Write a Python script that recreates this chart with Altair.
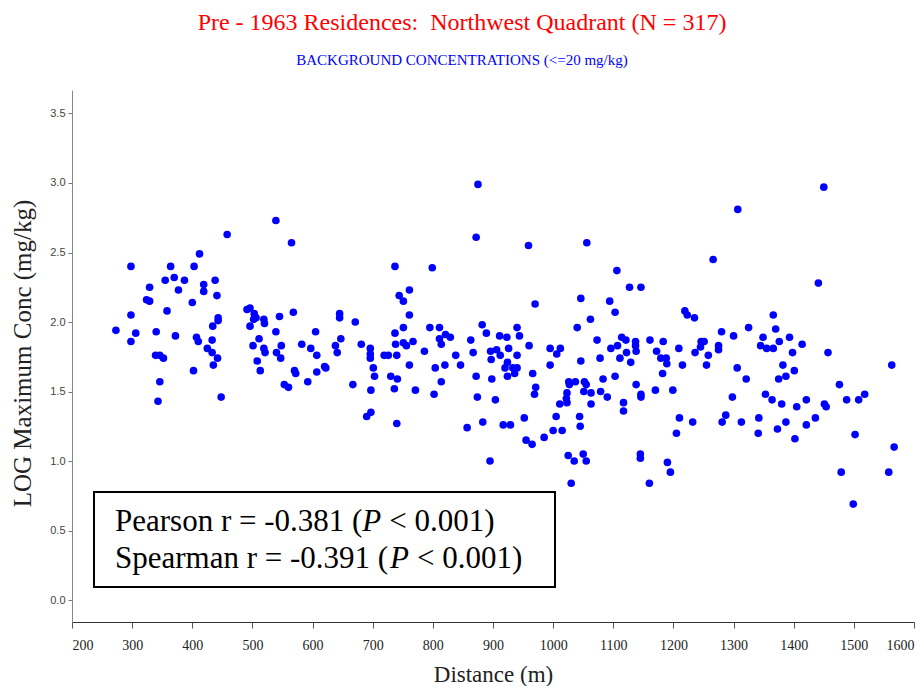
import altair as alt
import pandas as pd

# ---- data (Distance in m, LOG max concentration in mg/kg)
distance = [
    458, 412, 298, 364, 403, 355, 370, 387, 438, 329, 377, 419, 419, 441, 324, 329, 400, 358, 298, 443,
    443, 434, 273, 306, 298, 340, 372, 407, 410, 433, 425, 433, 442, 435, 339, 346, 352, 402, 346, 343,
    448, 491, 496, 503, 506, 502, 519, 520, 496, 511, 501, 519, 521, 508, 513,
    539, 565, 737, 744, 545, 568, 539, 605, 645, 645, 671, 548, 540, 547, 582, 597, 607, 638, 641, 647,
    681, 696, 696, 696, 719, 726, 740, 737, 738, 570, 572, 592, 607, 620, 622, 553, 560, 667, 701, 703,
    730, 741, 697, 736, 690, 697, 740,
    872, 875, 959, 799, 761, 751, 970, 761, 751, 795, 811, 882, 889, 940, 944, 911, 923, 811, 821, 829,
    814, 863, 751, 756, 767, 786, 838, 867, 896, 906, 912, 926, 940, 960, 897, 761, 804, 820, 846, 924,
    920, 933, 940, 936, 924, 814, 872, 898, 966, 971, 969, 771, 802, 874, 904, 952, 883, 857, 917, 929,
    1056, 1106, 1127, 1146, 1046, 1094, 1103, 1062, 1040, 1073, 1114, 1121, 1137, 1137, 1138, 1161, 1183, 1209, 995, 1012,
    1006, 1096, 1107, 1122, 1172, 1078, 1111, 1179, 1188, 1189, 1129, 1046, 995, 1182, 1083, 1103, 1026, 1037, 1052, 1027,
    1055, 1138, 1051, 1063, 1079, 1023, 1022, 1146, 1146, 1170, 1199, 1090, 1011, 1023, 1063, 1117, 1117, 1005, 1044,
    1450, 1307, 1266, 1441, 1219, 1223, 1235, 1366, 1325, 1280, 1300, 1370, 1349, 1376, 1393, 1414, 1345, 1355, 1366, 1246,
    1251, 1245, 1275, 1275, 1236, 1258, 1398, 1457, 1215, 1255, 1382, 1306, 1401, 1321, 1375, 1387, 1298, 1353, 1364, 1380,
    1405, 1421, 1451, 1454, 1210, 1232, 1287, 1281, 1313, 1342, 1341, 1373, 1387, 1421, 1436, 1402,
    1563, 1476, 1488, 1508, 1518, 1502, 1567, 1479, 1558, 1499,
    895, 955, 965, 985, 1000, 1015, 1025, 1030, 1035, 1045, 1050, 1055, 1145, 1145, 1160, 1190, 1195, 1205,
]
log_conc = [
    2.63, 2.49, 2.40, 2.40, 2.40, 2.30, 2.32, 2.30, 2.30, 2.25, 2.23, 2.27, 2.22, 2.19, 2.16, 2.15, 2.14, 2.08, 2.05, 2.03,
    2.01, 1.97, 1.94, 1.92, 1.86, 1.93, 1.90, 1.89, 1.86, 1.87, 1.81, 1.78, 1.74, 1.69, 1.76, 1.76, 1.74, 1.65, 1.57, 1.43,
    1.46, 2.09, 2.10, 2.06, 2.03, 2.02, 2.02, 1.99, 1.97, 1.88, 1.83, 1.81, 1.78, 1.72, 1.65,
    2.73, 2.57, 2.40, 2.19, 2.04, 2.07, 1.93, 1.93, 2.06, 2.03, 2.00, 1.83, 1.78, 1.74, 1.84, 1.81, 1.76, 1.83, 1.78, 1.88,
    1.84, 1.81, 1.77, 1.74, 1.76, 1.76, 1.76, 1.92, 1.84, 1.65, 1.63, 1.57, 1.64, 1.68, 1.67, 1.55, 1.53, 1.55, 1.67, 1.61,
    1.61, 1.59, 1.51, 1.52, 1.32, 1.35, 1.27,
    2.61, 2.99, 2.55, 2.39, 2.23, 2.15, 2.13, 2.05, 1.96, 1.96, 1.96, 1.98, 1.92, 1.96, 1.90, 1.90, 1.89, 1.88, 1.91, 1.89,
    1.84, 1.87, 1.85, 1.83, 1.86, 1.79, 1.76, 1.78, 1.79, 1.80, 1.76, 1.81, 1.76, 1.83, 1.73, 1.69, 1.67, 1.69, 1.69, 1.71,
    1.67, 1.67, 1.67, 1.63, 1.61, 1.57, 1.61, 1.59, 1.63, 1.53, 1.48, 1.51, 1.48, 1.46, 1.44, 1.31, 1.28, 1.24, 1.26, 1.26,
    2.57, 2.37, 2.25, 2.25, 2.17, 2.15, 2.07, 2.02, 1.96, 1.87, 1.89, 1.87, 1.86, 1.83, 1.79, 1.87, 1.86, 1.81, 1.81, 1.81,
    1.77, 1.81, 1.83, 1.78, 1.79, 1.74, 1.74, 1.74, 1.74, 1.70, 1.71, 1.72, 1.69, 1.63, 1.59, 1.61, 1.57, 1.57, 1.57, 1.55,
    1.55, 1.55, 1.50, 1.49, 1.50, 1.49, 1.45, 1.48, 1.46, 1.51, 1.51, 1.46, 1.41, 1.42, 1.41, 1.42, 1.36, 1.32, 1.32,
    2.97, 2.81, 2.45, 2.28, 2.08, 2.05, 2.03, 2.05, 1.96, 1.93, 1.90, 1.95, 1.89, 1.86, 1.89, 1.84, 1.83, 1.81, 1.81, 1.86,
    1.86, 1.82, 1.83, 1.80, 1.78, 1.76, 1.78, 1.78, 1.69, 1.69, 1.69, 1.67, 1.65, 1.59, 1.59, 1.61, 1.46, 1.48, 1.44, 1.41,
    1.39, 1.44, 1.41, 1.39, 1.31, 1.28, 1.33, 1.28, 1.28, 1.31, 1.20, 1.23, 1.28, 1.26, 1.31, 1.16,
    1.69, 1.55, 1.44, 1.44, 1.48, 1.19, 1.10, 0.92, 0.92, 0.69,
    1.00, 1.15, 1.12, 1.17, 1.22, 1.22, 1.04, 0.84, 1.00, 1.25, 1.05, 1.00, 1.02, 1.05, 0.84, 0.99, 0.92, 1.20,
]

x_ticks = list(range(200, 1601, 100))
y_ticks = [0.0, 0.5, 1.0, 1.5, 2.0, 2.5, 3.0, 3.5]

title_text = "Pre - 1963 Residences:\u00a0 Northwest Quadrant (N = 317)"
subtitle_text = "BACKGROUND CONCENTRATIONS (<=20 mg/kg)"
x_title = "Distance (m)"
y_title = "LOG Maximum Conc (mg/kg)"

stat_names = ["Pearson r = -0.381 (", "Spearman r = -0.391 ("]
stat_tails = ["< 0.001)", "< 0.001)"]

df = pd.DataFrame({"Distance": distance, "LogConc": log_conc})

W, H = 842, 532
SERIF = "Liberation Serif"

points = alt.Chart(df).mark_circle(color="#0000FF", opacity=1, size=58).encode(
    x=alt.X(
        "Distance:Q",
        scale=alt.Scale(domain=[200, 1600], nice=False, zero=False),
        axis=alt.Axis(
            values=x_ticks, title=x_title, grid=False, format="d",
            labelFont=SERIF, labelFontSize=14, labelColor="#222",
            tickSize=6, tickColor="#555", domainColor="#333", labelPadding=10,
            titleFont=SERIF, titleFontSize=23, titleFontWeight="normal", titleColor="#222",
            titleY=59, titleBaseline="alphabetic",
        ),
    ),
    y=alt.Y(
        "LogConc:Q",
        scale=alt.Scale(domain=[-0.158, 3.669], nice=False, zero=False),
        axis=alt.Axis(
            values=y_ticks, title=y_title, grid=False, format=".1f",
            labelFont="Liberation Sans", labelFontSize=11, labelColor="#444",
            tickSize=4, tickColor="#777", domainColor="#888", labelPadding=3,
            titleFont=SERIF, titleFontSize=25, titleFontWeight="normal", titleColor="#222",
            titleX=-50, titleY=H / 2 - 3, titleBaseline="middle", titleAlign="center", titleAngle=-90,
        ),
    ),
)

one = pd.DataFrame({"a": [0]})
box = alt.Chart(one).mark_rect(fill="white", stroke="black", strokeWidth=2).encode(
    x=alt.value(22), x2=alt.value(483), y=alt.value(402), y2=alt.value(497)
)

FS = 31
texts = []
base_y = [441, 478]
p_x = [290.3, 318.0]
tail_gap = 18.9 + 8.0
for i in range(2):
    texts.append(alt.Chart(one).mark_text(font=SERIF, fontSize=FS, align="left", baseline="alphabetic", color="black").encode(
        x=alt.value(43), y=alt.value(base_y[i]), text=alt.value(stat_names[i])))
    texts.append(alt.Chart(one).mark_text(font=SERIF, fontSize=FS, fontStyle="italic", align="left", baseline="alphabetic", color="black").encode(
        x=alt.value(p_x[i]), y=alt.value(base_y[i]), text=alt.value("P")))
    texts.append(alt.Chart(one).mark_text(font=SERIF, fontSize=FS, align="left", baseline="alphabetic", color="black").encode(
        x=alt.value(p_x[i] + tail_gap), y=alt.value(base_y[i]), text=alt.value(stat_tails[i])))

chart = alt.layer(points, box, *texts).properties(
    width=W, height=H,
    title=alt.TitleParams(
        text=title_text, subtitle=subtitle_text,
        font=SERIF, fontSize=24, fontWeight="normal", color="#FF0000",
        subtitleFont=SERIF, subtitleFontSize=15, subtitleColor="#0000FF",
        anchor="middle", dx=-31, offset=22, subtitlePadding=18,
    ),
    autosize=alt.AutoSizeParams(type="none"),
    padding={"left": 64, "top": 82, "right": 2, "bottom": 64},
).configure_view(stroke="transparent")

chart.save("out.html", embed_options={"renderer": "svg", "actions": False})
